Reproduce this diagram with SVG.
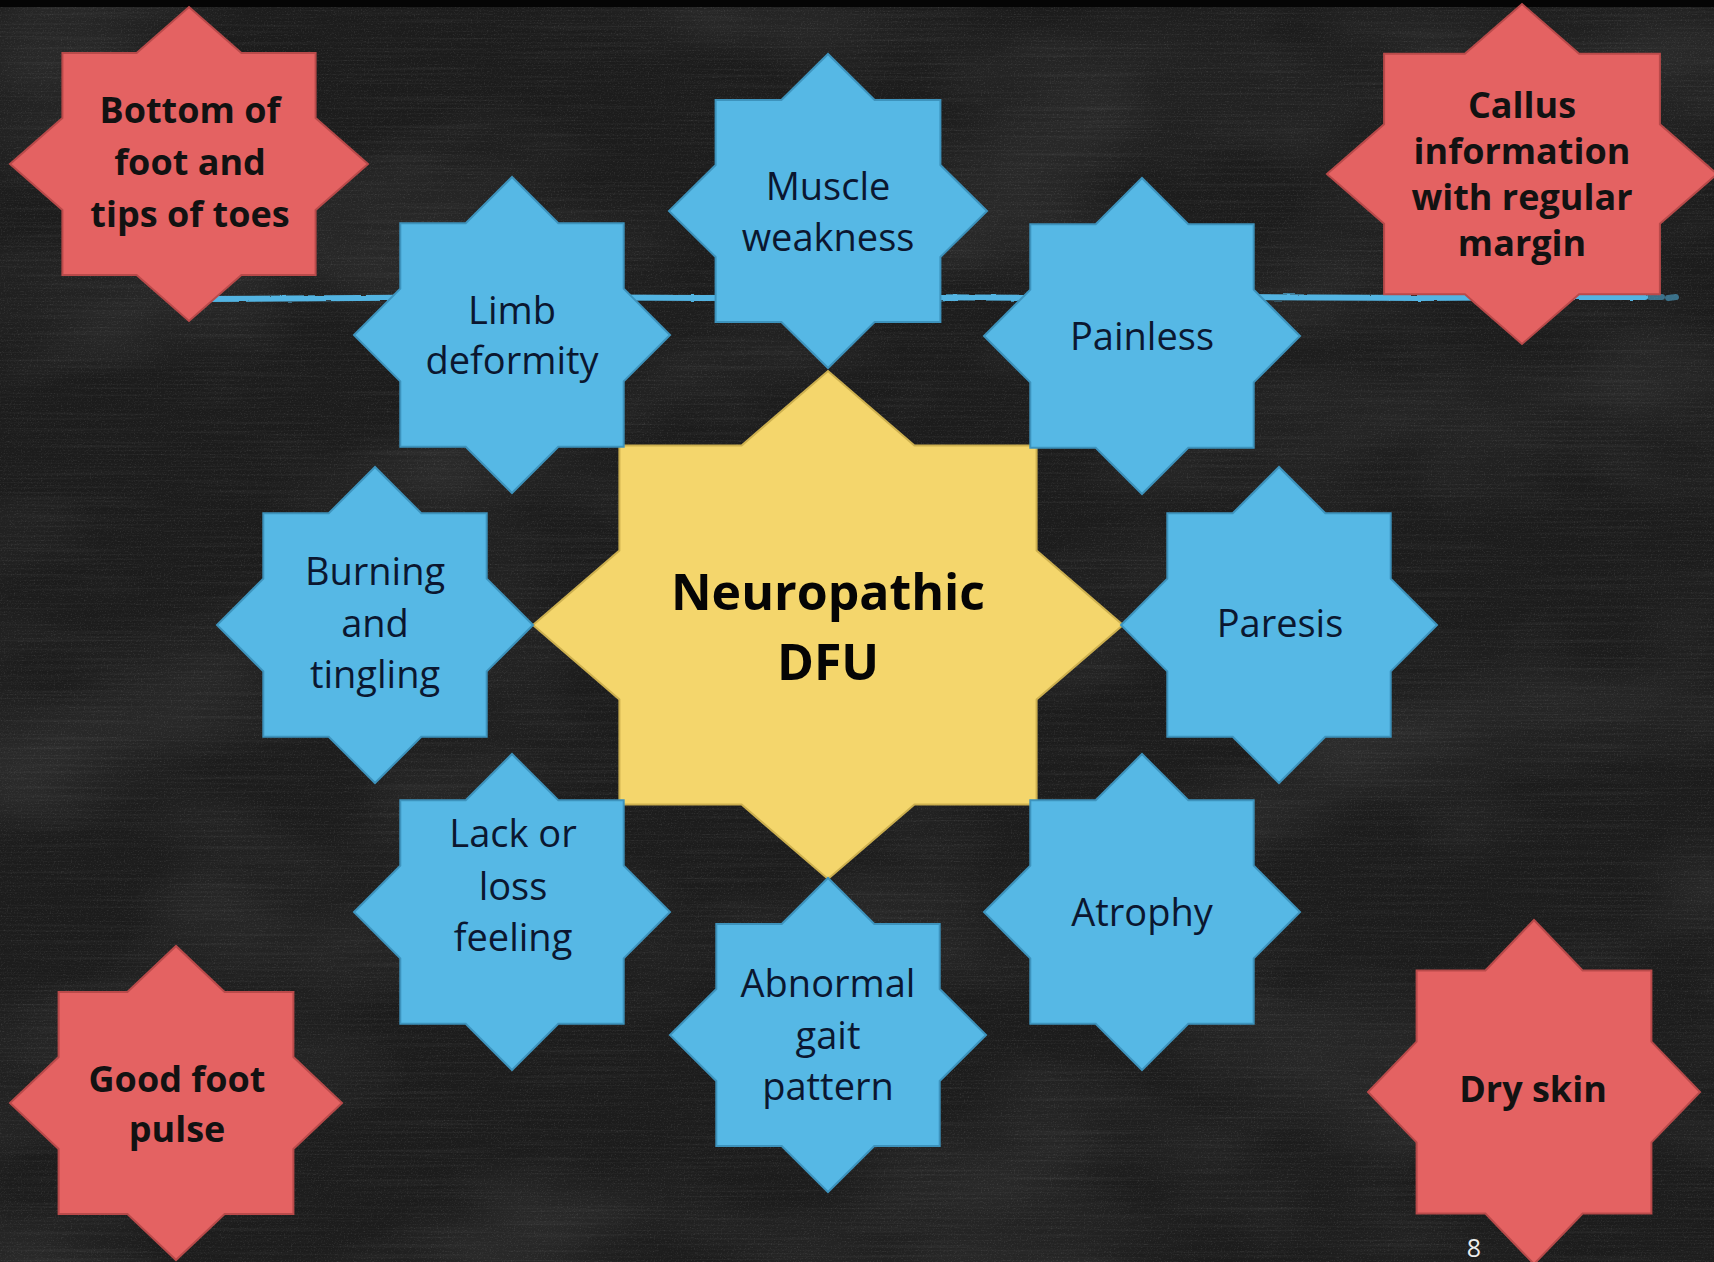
<svg xmlns="http://www.w3.org/2000/svg" width="1714" height="1262" viewBox="0 0 1714 1262">
  <defs>
    <style>
      .star-blue { fill: #56b8e5; stroke: #3d93bd; stroke-width: 2; stroke-linejoin: miter; }
      .star-red { fill: #e46262; stroke: #b94a4a; stroke-width: 2; stroke-linejoin: miter; }
      .star-hub { fill: #f4d66c; stroke: #cdb04f; stroke-width: 2; stroke-linejoin: miter; }
      .t-blue { font-family: "Open Sans", "Noto Sans", "DejaVu Sans", sans-serif; font-size: 38px; fill: #0b1730; text-anchor: middle; }
      .t-red { font-family: "Open Sans", "Noto Sans", "DejaVu Sans", sans-serif; font-weight: 700; font-size: 36px; fill: #121212; text-anchor: middle; }
      .t-hub { font-family: "Open Sans", "Noto Sans", "DejaVu Sans", sans-serif; font-weight: 700; font-size: 50px; fill: #050505; text-anchor: middle; }
      .t-page { font-family: "Open Sans", "Noto Sans", sans-serif; font-size: 25px; fill: #ececec; text-anchor: middle; }
      .rule { fill: none; stroke: #52b4e2; stroke-width: 6; stroke-linecap: round; stroke-linejoin: round; }
    </style>
    <!-- chalk dust streaks over the board -->
    <filter id="streaks" x="0" y="0" width="100%" height="100%">
      <feTurbulence type="fractalNoise" baseFrequency="0.006 0.5" numOctaves="3" seed="7" result="n"/>
      <feColorMatrix in="n" type="matrix" values="0 0 0 0 1  0 0 0 0 1  0 0 0 0 1  1.4 0 0 0 -0.62"/>
    </filter>
    <filter id="smudge" x="0" y="0" width="100%" height="100%">
      <feTurbulence type="fractalNoise" baseFrequency="0.0035 0.006" numOctaves="3" seed="11" result="m"/>
      <feColorMatrix in="m" type="matrix" values="0 0 0 0 1  0 0 0 0 1  0 0 0 0 1  0.9 0 0 0 -0.38"/>
    </filter>
    <filter id="grain" x="0" y="0" width="100%" height="100%">
      <feTurbulence type="fractalNoise" baseFrequency="0.7" numOctaves="2" seed="2" result="g"/>
      <feColorMatrix in="g" type="matrix" values="0 0 0 0 1  0 0 0 0 1  0 0 0 0 1  1.8 0 0 0 -0.95"/>
    </filter>
    <filter id="rough" x="-2%" y="-200%" width="104%" height="500%">
      <feTurbulence type="fractalNoise" baseFrequency="0.06 0.4" numOctaves="2" seed="4" result="r"/>
      <feDisplacementMap in="SourceGraphic" in2="r" scale="2.5" xChannelSelector="R" yChannelSelector="G"/>
    </filter>
  </defs>

  <!-- chalkboard -->
  <rect width="1714" height="1262" fill="#1c1c1c"/>
  <rect width="1714" height="1262" filter="url(#smudge)" opacity="0.18"/>
  <rect width="1714" height="1262" filter="url(#streaks)" opacity="0.08"/>
  <rect width="1714" height="1262" filter="url(#grain)" opacity="0.14"/>
  <rect width="1714" height="7" fill="#050505"/>

  <!-- blue chalk rule behind the stars -->
  <g id="connectors">
    <path class="rule" filter="url(#rough)" d="M205,299 L360,298 L520,297 L700,298 L880,297 L1060,298 L1240,297 L1420,298 L1560,297 L1645,297"/>
    <path class="rule" d="M1650,297 L1662,297 M1668,298 L1676,297" stroke-width="3" opacity="0.55"/>
  </g>

  <!-- hub -->
  <g id="node-neuropathic-dfu">
    <polygon class="star-hub" points="1123,625 1036.6,699.4 1036.6,804.6 914.4,804.6 828,879 741.6,804.6 619.4,804.6 619.4,699.4 533,625 619.4,550.6 619.4,445.4 741.6,445.4 828,371 914.4,445.4 1036.6,445.4 1036.6,550.6"/>
    <text class="t-hub" x="828" y="610">Neuropathic</text>
    <text class="t-hub" x="828" y="680">DFU</text>
  </g>

  <!-- symptoms ring -->
  <g id="node-muscle-weakness">
    <polygon class="star-blue" points="987,211 940.4,257 940.4,322 874.6,322 828,368 781.4,322 715.6,322 715.6,257 669,211 715.6,165 715.6,100 781.4,100 828,54 874.6,100 940.4,100 940.4,165"/>
    <text class="t-blue" x="828" y="200">Muscle</text>
    <text class="t-blue" x="828" y="251">weakness</text>
  </g>

  <g id="node-limb-deformity">
    <polygon class="star-blue" points="670,335 623.7,381.3 623.7,446.7 558.3,446.7 512,493 465.7,446.7 400.3,446.7 400.3,381.3 354,335 400.3,288.7 400.3,223.3 465.7,223.3 512,177 558.3,223.3 623.7,223.3 623.7,288.7"/>
    <text class="t-blue" x="512" y="324">Limb</text>
    <text class="t-blue" x="512" y="374">deformity</text>
  </g>

  <g id="node-painless">
    <polygon class="star-blue" points="1300,336 1253.7,382.3 1253.7,447.7 1188.3,447.7 1142,494 1095.7,447.7 1030.3,447.7 1030.3,382.3 984,336 1030.3,289.7 1030.3,224.3 1095.7,224.3 1142,178 1188.3,224.3 1253.7,224.3 1253.7,289.7"/>
    <text class="t-blue" x="1142" y="350">Painless</text>
  </g>

  <g id="node-burning-tingling">
    <polygon class="star-blue" points="533,625 486.7,671.3 486.7,736.7 421.3,736.7 375,783 328.7,736.7 263.3,736.7 263.3,671.3 217,625 263.3,578.7 263.3,513.3 328.7,513.3 375,467 421.3,513.3 486.7,513.3 486.7,578.7"/>
    <text class="t-blue" x="375" y="585">Burning</text>
    <text class="t-blue" x="375" y="637">and</text>
    <text class="t-blue" x="375" y="688">tingling</text>
  </g>

  <g id="node-paresis">
    <polygon class="star-blue" points="1437,625 1390.7,671.3 1390.7,736.7 1325.3,736.7 1279,783 1232.7,736.7 1167.3,736.7 1167.3,671.3 1121,625 1167.3,578.7 1167.3,513.3 1232.7,513.3 1279,467 1325.3,513.3 1390.7,513.3 1390.7,578.7"/>
    <text class="t-blue" x="1280" y="637">Paresis</text>
  </g>

  <g id="node-lack-loss-feeling">
    <polygon class="star-blue" points="670,912 623.7,958.3 623.7,1023.7 558.3,1023.7 512,1070 465.7,1023.7 400.3,1023.7 400.3,958.3 354,912 400.3,865.7 400.3,800.3 465.7,800.3 512,754 558.3,800.3 623.7,800.3 623.7,865.7"/>
    <text class="t-blue" x="513" y="847">Lack or</text>
    <text class="t-blue" x="513" y="900">loss</text>
    <text class="t-blue" x="513" y="951">feeling</text>
  </g>

  <g id="node-atrophy">
    <polygon class="star-blue" points="1300,912 1253.7,958.3 1253.7,1023.7 1188.3,1023.7 1142,1070 1095.7,1023.7 1030.3,1023.7 1030.3,958.3 984,912 1030.3,865.7 1030.3,800.3 1095.7,800.3 1142,754 1188.3,800.3 1253.7,800.3 1253.7,865.7"/>
    <text class="t-blue" x="1142" y="926">Atrophy</text>
  </g>

  <g id="node-abnormal-gait">
    <polygon class="star-blue" points="986,1035 939.7,1081 939.7,1146 874.3,1146 828,1192 781.7,1146 716.3,1146 716.3,1081 670,1035 716.3,989 716.3,924 781.7,924 828,878 874.3,924 939.7,924 939.7,989"/>
    <text class="t-blue" x="828" y="997">Abnormal</text>
    <text class="t-blue" x="828" y="1049">gait</text>
    <text class="t-blue" x="828" y="1100">pattern</text>
  </g>

  <!-- corner signs -->
  <g id="node-bottom-of-foot">
    <polygon class="star-red" points="368,164 315.6,210 315.6,275 241.4,275 189,321 136.6,275 62.4,275 62.4,210 10,164 62.4,118 62.4,53 136.6,53 189,7 241.4,53 315.6,53 315.6,118"/>
    <text class="t-red" x="190" y="123" font-size="37">Bottom of</text>
    <text class="t-red" x="190" y="175" font-size="37">foot and</text>
    <text class="t-red" x="190" y="227" font-size="37">tips of toes</text>
  </g>

  <g id="node-callus">
    <polygon class="star-red" points="1717,174 1659.9,223.8 1659.9,294.2 1579.1,294.2 1522,344 1464.9,294.2 1384.1,294.2 1384.1,223.8 1327,174 1384.1,124.2 1384.1,53.8 1464.9,53.8 1522,4 1579.1,53.8 1659.9,53.8 1659.9,124.2"/>
    <text class="t-red" x="1522" y="118" font-size="33">Callus</text>
    <text class="t-red" x="1522" y="164" font-size="33">information</text>
    <text class="t-red" x="1522" y="210" font-size="33">with regular</text>
    <text class="t-red" x="1522" y="256" font-size="33">margin</text>
  </g>

  <g id="node-good-foot-pulse">
    <polygon class="star-red" points="342,1103 293.4,1149 293.4,1214 224.6,1214 176,1260 127.4,1214 58.6,1214 58.6,1149 10,1103 58.6,1057 58.6,992 127.4,992 176,946 224.6,992 293.4,992 293.4,1057"/>
    <text class="t-red" x="177" y="1092" font-size="37">Good foot</text>
    <text class="t-red" x="177" y="1142" font-size="37">pulse</text>
  </g>

  <g id="node-dry-skin">
    <polygon class="star-red" points="1700,1092 1651.4,1142.4 1651.4,1213.6 1582.6,1213.6 1534,1264 1485.4,1213.6 1416.6,1213.6 1416.6,1142.4 1368,1092 1416.6,1041.6 1416.6,970.4 1485.4,970.4 1534,920 1582.6,970.4 1651.4,970.4 1651.4,1041.6"/>
    <text class="t-red" x="1533" y="1102">Dry skin</text>
  </g>

  <!-- slide number -->
  <text class="t-page" x="1474" y="1257">8</text>
</svg>
